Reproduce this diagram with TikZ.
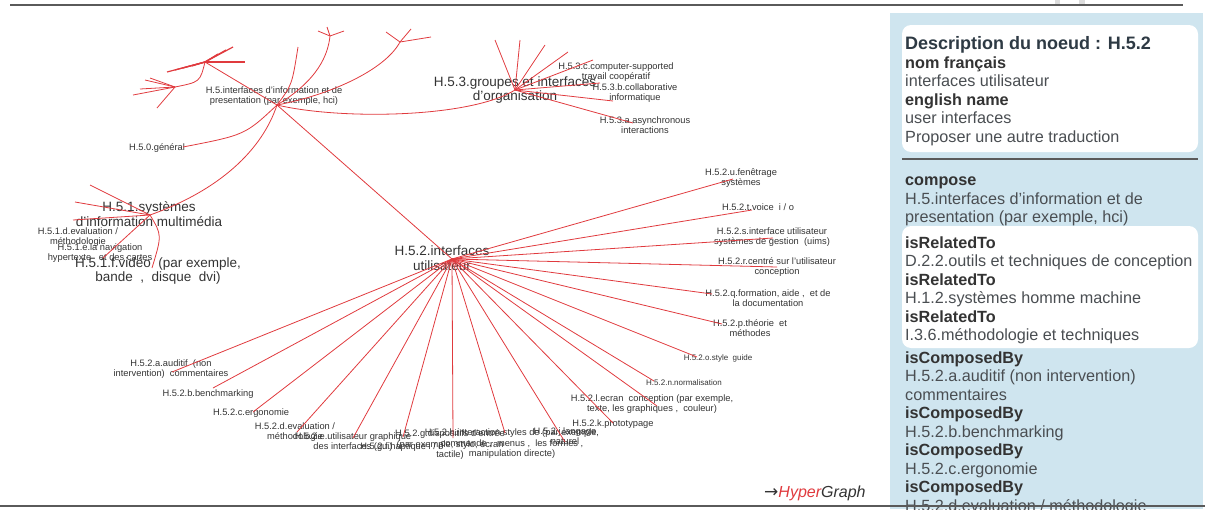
\documentclass[tikz,border=0pt]{standalone}
\usepackage{fontspec}
\setmainfont{Liberation Sans}
\newfontfamily\arrowfont{DejaVu Sans}
\usetikzlibrary{positioning}
\definecolor{edgeRed}{HTML}{E03A3E}
\definecolor{textMain}{HTML}{333333}
\definecolor{textPanel}{HTML}{4A4E52}
\definecolor{textTitle}{HTML}{2E3A44}
\definecolor{bgPanel}{HTML}{CFE5EF}
\definecolor{ruleGray}{HTML}{5A5A5A}
\definecolor{tabGray}{HTML}{DDDDDD}
\tikzset{
  edge/.style={draw=edgeRed, line width=0.8pt},
  biglabel/.style={font=\fontsize{13.5}{14.5}\selectfont, text=textMain, align=center, inner sep=0pt},
  leaflabel/.style={font=\fontsize{9.3}{10.5}\selectfont, text=textMain, align=center, inner sep=0pt},
  tinylabel/.style={leaflabel, font=\fontsize{8}{9}\selectfont},
  card/.style={fill=white, rounded corners=9pt},
  pkey/.style={anchor=base west, inner sep=0pt, font=\fontsize{16.2}{18}\selectfont\bfseries, text=textMain},
  pval/.style={anchor=base west, inner sep=0pt, font=\fontsize{16.2}{18}\selectfont, text=textPanel},
}

\begin{document}
\begin{tikzpicture}[x=1pt, y=-1pt]
  \useasboundingbox (0,0) rectangle (1205,509);

  % === Right panel: node description ===
  \fill[bgPanel] (890,13) rectangle (1203,509);
  \fill[card] (902,25) rectangle (1198,152);
  \fill[card] (902,226) rectangle (1198,348);
  \draw[ruleGray, line width=1.5pt] (902,159) -- (1198,159);

  \node[pkey, text=textTitle, font=\fontsize{18}{20}\selectfont\bfseries] (pTitle) at (905,49) {Description du noeud : H.5.2};
  \node[pkey] (pNomKey) at (905,68) {nom français};
  \node[pval] (pNomVal) at (905,86.5) {interfaces utilisateur};
  \node[pkey] (pEnKey) at (905,105) {english name};
  \node[pval] (pEnVal) at (905,123.5) {user interfaces};
  \node[pval] (pPropose) at (905,142) {Proposer une autre traduction};

  \node[pkey] (pCompKey) at (905,185.5) {compose};
  \node[pval] (pComp1) at (905,204) {H.5.interfaces d'information et de};
  \node[pval] (pComp2) at (905,222.5) {presentation (par exemple, hci)};

  \node[pkey] (pRelKey1) at (905,248) {isRelatedTo};
  \node[pval] (pRel1) at (905,266.5) {D.2.2.outils et techniques de conception};
  \node[pkey] (pRelKey2) at (905,285) {isRelatedTo};
  \node[pval] (pRel2) at (905,303.5) {H.1.2.systèmes homme machine};
  \node[pkey] (pRelKey3) at (905,322) {isRelatedTo};
  \node[pval] (pRel3) at (905,340.5) {I.3.6.méthodologie et techniques};

  \node[pkey] (pSubKey1) at (905,363) {isComposedBy};
  \node[pval] (pSub1a) at (905,381.5) {H.5.2.a.auditif (non intervention)};
  \node[pval] (pSub1b) at (905,400) {commentaires};
  \node[pkey] (pSubKey2) at (905,418.5) {isComposedBy};
  \node[pval] (pSub2) at (905,437) {H.5.2.b.benchmarking};
  \node[pkey] (pSubKey3) at (905,455.5) {isComposedBy};
  \node[pval] (pSub3) at (905,474) {H.5.2.c.ergonomie};
  \node[pkey] (pSubKey4) at (905,492.5) {isComposedBy};
  \node[pval] (pSub4) at (905,511) {H.5.2.d.evaluation / méthodologie};

  % frame rules and tabs
  \fill[tabGray] (1055,0) rectangle (1060,4);
  \fill[tabGray] (1079,0) rectangle (1085,4);
  \draw[ruleGray, line width=2pt] (10,5) -- (1183,5);
  \draw[ruleGray, line width=2pt] (0,506) -- (1205,506);

  \node[anchor=west, inner sep=0pt, font=\fontsize{16}{18}\selectfont\itshape, text=textMain] (brand) at (764,493)
    {{\arrowfont\upshape\fontsize{17}{18}\selectfont →}\textcolor{edgeRed}{Hyper}Graph};

  % === Hubs of the hyperbolic tree ===
  \coordinate (h52) at (452,259);
  \coordinate (h5) at (277,105);
  \coordinate (h50) at (183,147);
  \coordinate (h51) at (150,215);
  \coordinate (h53) at (515,90);
  \coordinate (hA) at (205,62);
  \coordinate (hB) at (175,87);
  \coordinate (hUp) at (298,47);
  \coordinate (hT1) at (330,36);
  \coordinate (hT2) at (400,42);

  % === Labels ===
  \node[biglabel] (l52) at (442,258) {H.5.2.interfaces\\utilisateur};
  \node[biglabel] (l53) at (515,90) {H.5.3.groupes et interfaces\\d'organisation};
  \node[biglabel] (l51) at (149,214) {H.5.1.systèmes\\d'information multimédia};
  \node[biglabel] (l51f) at (158,271) {H.5.1.f.vidéo \ (par exemple,\\bande \ , \ disque \ dvi)};

  \node[leaflabel] (l5) at (274,96) {H.5.interfaces d'information et de\\presentation (par exemple, hci)};
  \node[leaflabel] (l50) at (157,148) {H.5.0.général};
  \node[leaflabel] (l53c) at (616,72) {H.5.3.c.computer-supported\\travail coopératif};
  \node[leaflabel] (l53b) at (635,93) {H.5.3.b.collaborative\\informatique};
  \node[leaflabel] (l53a) at (645,125) {H.5.3.a.asynchronous\\interactions};
  \node[leaflabel] (l51d) at (78,237) {H.5.1.d.evaluation /\\méthodologie};
  \node[leaflabel] (l51e) at (100,253) {H.5.1.e.la navigation\\hypertexte \ \ et des cartes};

  % children of H.5.2, right side
  \node[leaflabel] (l52u) at (741,178) {H.5.2.u.fenêtrage\\systèmes};
  \node[leaflabel] (l52t) at (758,207) {H.5.2.t.voice \ i / o};
  \node[leaflabel] (l52s) at (772,237) {H.5.2.s.interface utilisateur\\systèmes de gestion \ (uims)};
  \node[leaflabel] (l52r) at (777,267) {H.5.2.r.centré sur l'utilisateur\\conception};
  \node[leaflabel] (l52q) at (768,298) {H.5.2.q.formation, aide , \ et de\\la documentation};
  \node[leaflabel] (l52p) at (750,328) {H.5.2.p.théorie \ et\\méthodes};
  \node[tinylabel] (l52o) at (718,358) {H.5.2.o.style \ guide};
  \node[tinylabel] (l52n) at (684,383) {H.5.2.n.normalisation};
  \node[leaflabel] (l52l) at (652,404) {H.5.2.l.ecran \ conception (par exemple,\\texte, les graphiques , \ couleur)};
  \node[leaflabel] (l52k) at (613,424) {H.5.2.k.prototypage};
  % children of H.5.2, bottom and left
  \node[leaflabel] (l52j) at (565,436) {H.5.2.j.langage\\naturel};
  \node[leaflabel] (l52h) at (512,444) {H.5.2.h.interaction styles de (par exemple,\\commande , \ menus , \ les formes ,\\manipulation directe)};
  \node[leaflabel] (l52g) at (450,445) {H.5.2.g.dispositifs d'entrée\\(par exemple, stylo, écran\\tactile)};
  \node[leaflabel] (l52f) at (402,447) {H.5.2.f.haptique i / o};
  \node[leaflabel] (l52e) at (353,442) {H.5.2.e.utilisateur graphique\\des interfaces (gui)};
  \node[leaflabel] (l52d) at (295,432) {H.5.2.d.evaluation /\\méthodologie};
  \node[leaflabel] (l52c) at (251,413) {H.5.2.c.ergonomie};
  \node[leaflabel] (l52b) at (208,394) {H.5.2.b.benchmarking};
  \node[leaflabel] (l52a) at (171,369) {H.5.2.a.auditif \ (non\\intervention) \ commentaires};

  % === Edges: H.5.2 fan ===
  \foreach \n/\x/\y in {a/172/372, b/213/388, c/253/412, d/297/432, e/353/438, f/403/437,
      g/453/438, h/505/433, j/565/442, k/613/423, l/657/406, n/654/381, o/697/357,
      p/722/324, q/712/294, r/777/267, s/773/238, t/752/210, u/733/179} {
    \coordinate (e52\n) at (\x,\y);
    \draw[edge] (h52) -- (e52\n);
  }

  % === Edges: H.5 and its subtrees ===
  \draw[edge] (h5) -- (h52);
  \draw[edge] (h5) .. controls (245,135) .. (h50);
  \draw[edge] (h5) .. controls (262,150) and (220,190) .. (h51);
  \draw[edge] (h5) .. controls (340,120) and (470,118) .. (h53);
  \draw[edge] (h5) .. controls (292,85) .. (hUp);
  \draw[edge] (h5) .. controls (318,80) and (328,55) .. (hT1);
  \draw[edge] (h5) .. controls (330,95) and (385,70) .. (hT2);
  \draw[edge] (h5) -- (hA);
  \draw[edge] (hA) .. controls (200,82) .. (hB);

  \foreach \i/\x/\y in {1/318/31, 2/327/27, 3/344/31} {
    \coordinate (t1s\i) at (\x,\y);
    \draw[edge] (hT1) -- (t1s\i);
  }
  \foreach \i/\x/\y in {1/386/32, 2/411/29, 3/431/37} {
    \coordinate (t2s\i) at (\x,\y);
    \draw[edge] (hT2) -- (t2s\i);
  }
  \foreach \i/\x/\y in {1/245/62, 2/233/47, 3/226/50, 4/218/54, 5/192/66, 6/183/68, 7/175/70, 8/167/72} {
    \coordinate (as\i) at (\x,\y);
    \draw[edge, line width=1.2pt] (hA) -- (as\i);
  }
  \foreach \i/\x/\y in {1/133/95, 2/140/89, 3/150/78, 4/145/80, 5/157/108} {
    \coordinate (bs\i) at (\x,\y);
    \draw[edge] (hB) -- (bs\i);
  }

  % H.5.1 children
  \foreach \i/\x/\y in {1/90/185, 2/75/202, 3/73/220, 4/103/258} {
    \coordinate (e51s\i) at (\x,\y);
    \draw[edge] (h51) -- (e51s\i);
  }
  \coordinate (e51f) at (152,268);
  \draw[edge] (h51) .. controls (162,235) .. (e51f);

  % H.5.3 children
  \foreach \i/\x/\y in {1/495/40, 2/520/40, 3/545/45, 4/568/52, 5/593/60, 6/600/83, 7/613/101, 8/633/123} {
    \coordinate (e53s\i) at (\x,\y);
    \draw[edge] (h53) -- (e53s\i);
  }

\end{tikzpicture}
\end{document}
